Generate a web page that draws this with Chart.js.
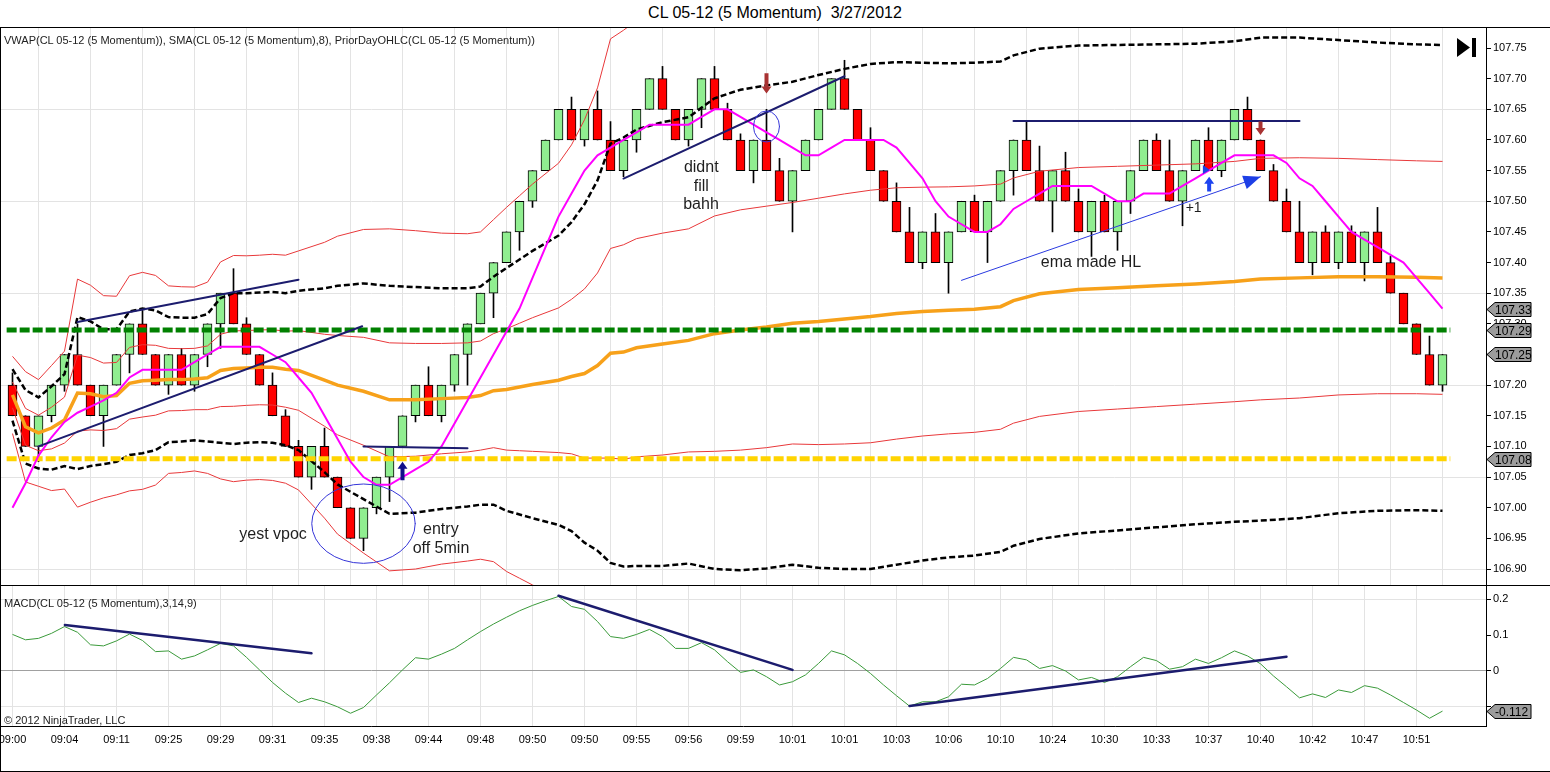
<!DOCTYPE html>
<html>
<head>
<meta charset="utf-8">
<title>CL 05-12 (5 Momentum) 3/27/2012</title>
<script src="https://cdn.jsdelivr.net/npm/chart.js@4.4.1/dist/chart.umd.min.js"></script>
<style>
  html, body { margin: 0; padding: 0; background: #fff; }
  #wrap { position: relative; width: 1550px; height: 772px; overflow: hidden; font-family: "Liberation Sans", Arial, sans-serif; color: #000; }
  canvas { position: absolute; left: 0; }
  #priceChart { top: 27px; }
  #macdChart { top: 586px; }
  .rule { position: absolute; background: #000; }
  .label { position: absolute; white-space: pre; font-size: 11px; line-height: 12px; color: #222; }
  #title { position: absolute; top: 4px; left: 0; width: 1550px; text-align: center; font-size: 16px; line-height: 18px; white-space: pre; }
</style>
</head>
<body>
<div id="wrap">
  <div id="title">CL 05-12 (5 Momentum)  3/27/2012</div>
  <canvas id="priceChart" width="1550" height="559"></canvas>
  <canvas id="macdChart" width="1550" height="186"></canvas>
  <div class="rule" style="left:0;top:27px;width:1550px;height:1px"></div>
  <div class="rule" style="left:0;top:585px;width:1550px;height:1px"></div>
  <div class="rule" style="left:0;top:27px;width:1px;height:745px"></div>
  <div class="rule" style="left:0;top:771px;width:1550px;height:1px"></div>
  <div class="label" style="left:4px;top:34px">VWAP(CL 05-12 (5 Momentum)), SMA(CL 05-12 (5 Momentum),8), PriorDayOHLC(CL 05-12 (5 Momentum))</div>
  <div class="label" style="left:4px;top:597px">MACD(CL 05-12 (5 Momentum),3,14,9)</div>
  <div class="label" style="left:4px;top:714px">© 2012 NinjaTrader, LLC</div>
</div>
<script>
// time labels, one every 4 momentum bars
const timeLabels = ['09:00', '09:04', '09:11', '09:25', '09:29', '09:31', '09:35', '09:38', '09:44', '09:48',
    '09:50', '09:50', '09:55', '09:56', '09:59', '10:01', '10:01', '10:03', '10:06', '10:10',
    '10:24', '10:30', '10:33', '10:37', '10:40', '10:42', '10:47', '10:51'];

// 5 tick momentum bars
const opens = [
    107.20, 107.15, 107.10, 107.15, 107.20, 107.25, 107.20, 107.15, 107.20, 107.25,
    107.30, 107.25, 107.20, 107.25, 107.20, 107.25, 107.30, 107.35, 107.30, 107.25,
    107.20, 107.15, 107.10, 107.05, 107.10, 107.05, 107.00, 106.95, 107.00, 107.05,
    107.10, 107.15, 107.20, 107.15, 107.20, 107.25, 107.30, 107.35, 107.40, 107.45,
    107.50, 107.55, 107.60, 107.65, 107.60, 107.65, 107.60, 107.55, 107.60, 107.65,
    107.70, 107.65, 107.60, 107.65, 107.70, 107.65, 107.60, 107.55, 107.60, 107.55,
    107.50, 107.55, 107.60, 107.65, 107.70, 107.65, 107.60, 107.55, 107.50, 107.45,
    107.40, 107.45, 107.40, 107.45, 107.50, 107.45, 107.50, 107.55, 107.60, 107.55,
    107.50, 107.55, 107.50, 107.45, 107.50, 107.45, 107.50, 107.55, 107.60, 107.55,
    107.50, 107.55, 107.60, 107.55, 107.60, 107.65, 107.60, 107.55, 107.50, 107.45,
    107.40, 107.45, 107.40, 107.45, 107.40, 107.45, 107.40, 107.35, 107.30, 107.25,
    107.20];
const closes = [
    107.15, 107.10, 107.15, 107.20, 107.25, 107.20, 107.15, 107.20, 107.25, 107.30,
    107.25, 107.20, 107.25, 107.20, 107.25, 107.30, 107.35, 107.30, 107.25, 107.20,
    107.15, 107.10, 107.05, 107.10, 107.05, 107.00, 106.95, 107.00, 107.05, 107.10,
    107.15, 107.20, 107.15, 107.20, 107.25, 107.30, 107.35, 107.40, 107.45, 107.50,
    107.55, 107.60, 107.65, 107.60, 107.65, 107.60, 107.55, 107.60, 107.65, 107.70,
    107.65, 107.60, 107.65, 107.70, 107.65, 107.60, 107.55, 107.60, 107.55, 107.50,
    107.55, 107.60, 107.65, 107.70, 107.65, 107.60, 107.55, 107.50, 107.45, 107.40,
    107.45, 107.40, 107.45, 107.50, 107.45, 107.50, 107.55, 107.60, 107.55, 107.50,
    107.55, 107.50, 107.45, 107.50, 107.45, 107.50, 107.55, 107.60, 107.55, 107.50,
    107.55, 107.60, 107.55, 107.60, 107.65, 107.60, 107.55, 107.50, 107.45, 107.40,
    107.45, 107.40, 107.45, 107.40, 107.45, 107.40, 107.35, 107.30, 107.25, 107.20,
    107.25];
const highs = [
    107.22, 107.15, 107.15, 107.20, 107.25, 107.30, 107.20, 107.20, 107.25, 107.30,
    107.325, 107.25, 107.25, 107.26, 107.25, 107.30, 107.35, 107.39, 107.31, 107.25,
    107.22, 107.16, 107.11, 107.10, 107.13, 107.05, 107.00, 107.00, 107.05, 107.10,
    107.15, 107.20, 107.23, 107.20, 107.25, 107.30, 107.35, 107.40, 107.45, 107.50,
    107.55, 107.60, 107.65, 107.67, 107.65, 107.68, 107.63, 107.60, 107.65, 107.70,
    107.72, 107.65, 107.65, 107.70, 107.72, 107.66, 107.61, 107.60, 107.65, 107.57,
    107.55, 107.60, 107.65, 107.70, 107.73, 107.65, 107.62, 107.55, 107.53, 107.49,
    107.45, 107.48, 107.45, 107.50, 107.51, 107.50, 107.55, 107.60, 107.63, 107.59,
    107.55, 107.58, 107.52, 107.50, 107.51, 107.50, 107.55, 107.60, 107.61, 107.60,
    107.55, 107.60, 107.62, 107.60, 107.65, 107.67, 107.60, 107.56, 107.52, 107.50,
    107.45, 107.46, 107.45, 107.46, 107.45, 107.49, 107.41, 107.35, 107.30, 107.28,
    107.25];
const lows = [
    107.15, 107.10, 107.075, 107.14, 107.19, 107.20, 107.15, 107.10, 107.20, 107.22,
    107.25, 107.20, 107.185, 107.20, 107.19, 107.23, 107.26, 107.30, 107.25, 107.20,
    107.15, 107.10, 107.05, 107.03, 107.05, 107.00, 106.95, 106.93, 106.99, 107.01,
    107.10, 107.14, 107.15, 107.14, 107.19, 107.20, 107.30, 107.31, 107.40, 107.42,
    107.49, 107.55, 107.60, 107.60, 107.59, 107.60, 107.55, 107.54, 107.58, 107.65,
    107.65, 107.60, 107.59, 107.62, 107.65, 107.60, 107.55, 107.53, 107.55, 107.50,
    107.45, 107.55, 107.60, 107.65, 107.65, 107.60, 107.55, 107.50, 107.45, 107.40,
    107.39, 107.40, 107.35, 107.45, 107.45, 107.40, 107.50, 107.51, 107.55, 107.50,
    107.45, 107.50, 107.45, 107.41, 107.45, 107.42, 107.48, 107.55, 107.55, 107.50,
    107.46, 107.55, 107.55, 107.54, 107.60, 107.60, 107.55, 107.50, 107.45, 107.40,
    107.38, 107.40, 107.39, 107.40, 107.37, 107.40, 107.35, 107.30, 107.25, 107.20,
    107.19];

// SMA(8), magenta
const sma8 = [
    107.00, 107.04, 107.085, 107.115, 107.14, 107.155, 107.165, 107.175, 107.1875, 107.2125,
    107.225, 107.225, 107.225, 107.225, 107.2375, 107.25, 107.2625, 107.2625, 107.2625, 107.2625,
    107.25, 107.2375, 107.2125, 107.1875, 107.15, 107.1125, 107.075, 107.05, 107.0375, 107.0375,
    107.05, 107.0625, 107.075, 107.10, 107.1375, 107.175, 107.2125, 107.25, 107.2875, 107.325,
    107.375, 107.425, 107.475, 107.5125, 107.55, 107.575, 107.5875, 107.60, 107.6125, 107.625,
    107.625, 107.625, 107.625, 107.6375, 107.65, 107.65, 107.6375, 107.625, 107.6125, 107.60,
    107.5875, 107.575, 107.575, 107.5875, 107.60, 107.60, 107.60, 107.60, 107.5875, 107.5625,
    107.5375, 107.50, 107.475, 107.4625, 107.45, 107.45, 107.4625, 107.4875, 107.50, 107.5125,
    107.525, 107.525, 107.525, 107.525, 107.5125, 107.50, 107.50, 107.5125, 107.5125, 107.5125,
    107.525, 107.5375, 107.55, 107.5625, 107.575, 107.575, 107.575, 107.575, 107.5625, 107.5375,
    107.525, 107.50, 107.475, 107.45, 107.4375, 107.425, 107.4125, 107.40, 107.375, 107.35,
    107.325];

// VWAP and its standard deviation, read at these bars
const vwapBars = [0, 1, 2, 3, 4, 5, 6, 7, 8, 9, 10, 11, 12, 13, 14, 15, 16, 17, 18, 19, 20, 21, 22,
    24, 25, 27, 29, 31, 33, 35, 36, 37, 38, 39, 40, 42, 43, 44, 45, 46, 47, 48,
    50, 52, 54, 56, 58, 60, 62, 64, 66, 68, 70, 72, 74, 76,
    77, 79, 82, 85, 88, 91, 94, 96, 99, 102, 105, 108, 110];
const vwap = [
    107.184, 107.132, 107.122, 107.130, 107.143, 107.187, 107.186, 107.181, 107.183, 107.203,
    107.207, 107.208, 107.209, 107.209, 107.210, 107.212, 107.224, 107.227, 107.228, 107.229,
    107.229, 107.226, 107.224,
    107.208, 107.200, 107.190, 107.176, 107.176, 107.178, 107.180, 107.183, 107.191, 107.193, 107.197, 107.201,
    107.208, 107.214, 107.219, 107.232, 107.252, 107.254, 107.261,
    107.267, 107.273, 107.284, 107.290, 107.295, 107.301, 107.304, 107.308, 107.312, 107.317, 107.320, 107.322, 107.324, 107.328,
    107.338, 107.349, 107.356, 107.359, 107.362, 107.365, 107.369, 107.373, 107.375, 107.377, 107.377, 107.376, 107.375];
const vwapSd = [
    0.021, 0.030, 0.029, 0.034, 0.0375, 0.062, 0.059, 0.055, 0.054, 0.0585,
    0.059, 0.057, 0.051, 0.0505, 0.050, 0.052, 0.059, 0.0615, 0.061, 0.061,
    0.0615, 0.062, 0.065,
    0.075, 0.081, 0.088, 0.093, 0.092, 0.090, 0.089, 0.089, 0.093, 0.099, 0.104, 0.109,
    0.118, 0.126, 0.138, 0.151, 0.171, 0.175, 0.178,
    0.181, 0.182, 0.192, 0.196, 0.197, 0.197, 0.201, 0.204, 0.206, 0.205, 0.203, 0.2015, 0.201, 0.200,
    0.200, 0.200, 0.199, 0.198, 0.197, 0.196, 0.196, 0.197, 0.196, 0.193, 0.191, 0.190, 0.190];

// prior day levels (green, yellow)
const priorDayLevels = [107.29, 107.08];

// MACD(3,14,9)
const macd = [
    0.102, 0.087, 0.091, 0.105, 0.124, 0.108, 0.073, 0.070, 0.084, 0.103,
    0.085, 0.054, 0.056, 0.033, 0.042, 0.059, 0.077, 0.070, 0.038, 0.003,
    -0.032, -0.062, -0.088, -0.076, -0.086, -0.100, -0.118, -0.102, -0.067, -0.033,
    0.003, 0.037, 0.033, 0.047, 0.063, 0.087, 0.110, 0.131, 0.150, 0.168,
    0.183, 0.196, 0.208, 0.180, 0.172, 0.138, 0.096, 0.091, 0.102, 0.116,
    0.096, 0.063, 0.063, 0.079, 0.059, 0.026, -0.004, 0.003, -0.016, -0.039,
    -0.030, -0.011, 0.021, 0.056, 0.045, 0.021, -0.007, -0.039, -0.069, -0.098,
    -0.086, -0.086, -0.072, -0.037, -0.039, -0.021, 0.007, 0.038, 0.031, 0.007,
    0.015, 0.000, -0.025, -0.018, -0.032, -0.016, 0.012, 0.038, 0.029, 0.005,
    0.012, 0.033, 0.021, 0.037, 0.056, 0.042, 0.020, -0.014, -0.044, -0.075,
    -0.064, -0.074, -0.053, -0.060, -0.041, -0.048, -0.067, -0.088, -0.109, -0.132,
    -0.112];

const priceTicks = [106.90, 106.95, 107.00, 107.05, 107.10, 107.15, 107.20, 107.25, 107.30,
    107.35, 107.40, 107.45, 107.50, 107.55, 107.60, 107.65, 107.70, 107.75];
const priceGrid = [106.90, 107.05, 107.20, 107.35, 107.50, 107.65];
const macdTicks = [-0.1, 0, 0.1, 0.2];

// hand drawn objects on the chart (bar index, price)
const trendLines = [
    [2.0, 107.100, 26.9, 107.296],
    [5.0, 107.303, 22.0, 107.372],
    [47.0, 107.537, 64.0, 107.704],
    [27.0, 107.100, 35.0, 107.097],
    [77.0, 107.631, 99.0, 107.631]
];
const emaArrow = [73.0, 107.371, 96.0, 107.540];
const circles = [[27.0, 106.974, 3.98, 0.0647], [58.0, 107.622, 1.0, 0.0253]];
const blockArrows = [
    [30.0, 107.075, 107.045, '#10108a'],
    [58.0, 107.676, 107.709, '#a83232'],
    [92.05, 107.540, 107.516, '#1d44f0'],
    [96.0, 107.608, 107.630, '#a83232']
];
const notes = [
    ['yest vpoc', 20.04, 106.9556, 16],
    ['entry', 32.95, 106.9637, 16],
    ['off 5min', 32.96, 106.9335, 16],
    ['didnt', 52.98, 107.5542, 16],
    ['fill', 52.98, 107.5232, 16],
    ['bahh', 52.96, 107.4939, 16],
    ['ema made HL', 82.96, 107.3993, 16],
    ['+1', 90.86, 107.489, 14]
];
const macdLines = [[4.03, 0.1285, 23.0, 0.0494], [42.0, 0.210, 60.0, 0.003], [69.0, -0.098, 98.0, 0.040]];

Chart.defaults.font.family = '"Liberation Sans", Arial, sans-serif';
Chart.defaults.font.size = 11;
Chart.defaults.color = '#000';

const xMin = -12.5 / 13;
const xMax = xMin + 1486 / 13;
const near = (a, b) => Math.abs(a - b) < 1e-6;

function timeAxis(showLabels) {
    return {
        type: 'linear', min: xMin, max: xMax, offset: false,
        afterBuildTicks: s => { s.ticks = timeLabels.map((t, k) => ({ value: k * 4 })); },
        afterFit: s => { s.paddingLeft = 0; s.paddingRight = 0; s.height = showLabels ? 46 : 0; },
        grid: { color: '#e3e3e3', drawTicks: false },
        border: { display: showLabels, color: '#000' },
        ticks: { display: showLabels, autoSkip: false, maxRotation: 0, padding: 7, callback: (v, k) => timeLabels[k] }
    };
}

function drawTag(ctx, left, y, text) {
    ctx.beginPath();
    ctx.moveTo(left + 1, y);
    ctx.lineTo(left + 9, y - 7);
    ctx.lineTo(left + 45, y - 7);
    ctx.lineTo(left + 45, y + 7);
    ctx.lineTo(left + 9, y + 7);
    ctx.closePath();
    ctx.fillStyle = '#9c9c9c';
    ctx.fill();
    ctx.strokeStyle = '#000';
    ctx.lineWidth = 1;
    ctx.stroke();
    ctx.fillStyle = '#000';
    ctx.font = '12px "Liberation Sans", Arial, sans-serif';
    ctx.textAlign = 'left';
    ctx.textBaseline = 'middle';
    ctx.fillText(text, left + 9, y + 1);
}

function clipArea(ctx, a) {
    ctx.beginPath();
    ctx.rect(a.left, a.top, a.right - a.left, a.bottom - a.top);
    ctx.clip();
}

const priceDrawings = {
    id: 'priceDrawings',
    afterDatasetsDraw(chart) {
        const { ctx, chartArea, scales: { x, y } } = chart;
        ctx.save();
        clipArea(ctx, chartArea);
        ctx.lineCap = 'round';

        ctx.strokeStyle = '#1c1c6e';
        ctx.lineWidth = 2;
        trendLines.forEach(l => {
            ctx.beginPath();
            ctx.moveTo(x.getPixelForValue(l[0]), y.getPixelForValue(l[1]));
            ctx.lineTo(x.getPixelForValue(l[2]), y.getPixelForValue(l[3]));
            ctx.stroke();
        });

        // thin blue arrow
        const ax1 = x.getPixelForValue(emaArrow[0]), ay1 = y.getPixelForValue(emaArrow[1]);
        const ax2 = x.getPixelForValue(emaArrow[2]), ay2 = y.getPixelForValue(emaArrow[3]);
        const ang = Math.atan2(ay2 - ay1, ax2 - ax1);
        ctx.strokeStyle = '#2a3ae0';
        ctx.lineWidth = 1;
        ctx.beginPath();
        ctx.moveTo(ax1, ay1);
        ctx.lineTo(ax2, ay2);
        ctx.stroke();
        ctx.fillStyle = '#1d3fe6';
        ctx.beginPath();
        ctx.moveTo(ax2, ay2);
        ctx.lineTo(ax2 - 17 * Math.cos(ang) + 7 * Math.sin(ang), ay2 - 17 * Math.sin(ang) - 7 * Math.cos(ang));
        ctx.lineTo(ax2 - 17 * Math.cos(ang) - 7 * Math.sin(ang), ay2 - 17 * Math.sin(ang) + 7 * Math.cos(ang));
        ctx.closePath();
        ctx.fill();

        // small marker near +1
        const mx = x.getPixelForValue(91.8), my = y.getPixelForValue(107.551);
        ctx.beginPath();
        ctx.moveTo(mx - 3, my - 5);
        ctx.lineTo(mx + 4, my);
        ctx.lineTo(mx - 3, my + 4);
        ctx.closePath();
        ctx.fill();

        // ellipses
        ctx.strokeStyle = '#3434d8';
        ctx.lineWidth = 1;
        circles.forEach(c => {
            const cx = x.getPixelForValue(c[0]), cy = y.getPixelForValue(c[1]);
            const rx = Math.abs(x.getPixelForValue(c[0] + c[2]) - cx);
            const ry = Math.abs(y.getPixelForValue(c[1] + c[3]) - cy);
            ctx.beginPath();
            ctx.ellipse(cx, cy, rx, ry, 0, 0, Math.PI * 2);
            ctx.stroke();
        });

        // block arrows
        blockArrows.forEach(b => {
            const bx = x.getPixelForValue(b[0]);
            const tip = y.getPixelForValue(b[1]), tail = y.getPixelForValue(b[2]);
            const dir = tail > tip ? 1 : -1;
            ctx.fillStyle = b[3];
            ctx.beginPath();
            ctx.moveTo(bx, tip);
            ctx.lineTo(bx + 5, tip + 7 * dir);
            ctx.lineTo(bx + 2, tip + 7 * dir);
            ctx.lineTo(bx + 2, tail);
            ctx.lineTo(bx - 2, tail);
            ctx.lineTo(bx - 2, tip + 7 * dir);
            ctx.lineTo(bx - 5, tip + 7 * dir);
            ctx.closePath();
            ctx.fill();
        });

        // text notes
        ctx.fillStyle = '#1e1e1e';
        ctx.textAlign = 'center';
        ctx.textBaseline = 'middle';
        notes.forEach(n => {
            ctx.font = n[3] + 'px "Liberation Sans", Arial, sans-serif';
            ctx.fillText(n[0], x.getPixelForValue(n[1]), y.getPixelForValue(n[2]));
        });
        ctx.restore();
    },
    afterDraw(chart) {
        const { ctx, chartArea, scales: { y } } = chart;
        ctx.save();
        const tags = [sma8[sma8.length - 1], priorDayLevels[0], closes[closes.length - 1], priorDayLevels[1]];
        tags.forEach(v => drawTag(ctx, chartArea.right, Math.round(y.getPixelForValue(v)) + 0.5, (v + 1e-9).toFixed(2)));

        // "go to last bar" button
        ctx.fillStyle = '#000';
        ctx.beginPath();
        ctx.moveTo(1457, 11);
        ctx.lineTo(1457, 30);
        ctx.lineTo(1470, 20.5);
        ctx.closePath();
        ctx.fill();
        ctx.fillRect(1472, 11, 4, 19);
        ctx.restore();
    }
};

const candleWicks = closes.map((c, i) => ({ x: i, y: [lows[i], highs[i]] }));
const candleBodies = closes.map((c, i) => ({ x: i, y: [opens[i], c] }));
const band = k => vwapBars.map((b, j) => ({ x: b, y: vwap[j] + k * vwapSd[j] }));
const lineSet = (data, color, width, order, dash) => ({
    type: 'line', data: data, borderColor: color, borderWidth: width, borderDash: dash || [],
    pointRadius: 0, fill: false, tension: 0, order: order
});

const priceCtx = document.getElementById('priceChart').getContext('2d');
const priceChart = new Chart(priceCtx, {
    type: 'line',
    data: {
        datasets: [
            { type: 'bar', data: candleWicks, backgroundColor: '#000', barThickness: 1, grouped: false, order: 20 },
            {
                type: 'bar', data: candleBodies, grouped: false, order: 19, barThickness: 9,
                backgroundColor: closes.map((c, i) => c > opens[i] ? '#90ee90' : '#ff0000'),
                borderColor: '#000', borderWidth: 1, borderSkipped: false
            },
            lineSet(band(3), '#e8383a', 1, 12),
            lineSet(band(1), '#e8383a', 1, 12),
            lineSet(band(-1), '#e8383a', 1, 12),
            lineSet(band(-3), '#e8383a', 1, 12),
            lineSet(band(2), '#000', 2.5, 11, [6, 3]),
            lineSet(band(-2), '#000', 2.5, 11, [6, 3]),
            lineSet(vwapBars.map((b, j) => ({ x: b, y: vwap[j] })), '#f7a11a', 3.5, 10),
            lineSet([{ x: -0.45, y: priorDayLevels[0] }, { x: closes.length - 0.4, y: priorDayLevels[0] }], '#008000', 5, 8, [10, 3]),
            lineSet([{ x: -0.45, y: priorDayLevels[1] }, { x: closes.length - 0.4, y: priorDayLevels[1] }], '#ffd400', 5, 8, [10, 3]),
            lineSet(sma8.map((v, i) => ({ x: i, y: v })), '#ff00ff', 2, 6)
        ]
    },
    options: {
        responsive: false, animation: false, devicePixelRatio: 1,
        layout: { padding: 0 },
        plugins: { legend: { display: false }, tooltip: { enabled: false } },
        scales: {
            x: timeAxis(false),
            y: {
                position: 'right', min: 106.8723, max: 107.7843,
                afterBuildTicks: s => { s.ticks = priceTicks.map(v => ({ value: v })); },
                afterFit: s => { s.width = 64; s.paddingTop = 0; s.paddingBottom = 0; },
                grid: {
                    color: c => (c.tick && priceGrid.some(g => near(g, c.tick.value))) ? '#e3e3e3' : 'rgba(0,0,0,0)',
                    tickColor: '#000', tickLength: 5
                },
                border: { color: '#000' },
                ticks: { padding: 2, callback: v => v.toFixed(2) }
            }
        }
    },
    plugins: [priceDrawings]
});

const macdDrawings = {
    id: 'macdDrawings',
    afterDatasetsDraw(chart) {
        const { ctx, chartArea, scales: { x, y } } = chart;
        ctx.save();
        clipArea(ctx, chartArea);
        ctx.strokeStyle = '#1c1c6e';
        ctx.lineWidth = 2.5;
        ctx.lineCap = 'round';
        macdLines.forEach(l => {
            ctx.beginPath();
            ctx.moveTo(x.getPixelForValue(l[0]), y.getPixelForValue(l[1]));
            ctx.lineTo(x.getPixelForValue(l[2]), y.getPixelForValue(l[3]));
            ctx.stroke();
        });
        ctx.restore();
    },
    afterDraw(chart) {
        const { ctx, chartArea, scales: { y } } = chart;
        const last = macd[macd.length - 1];
        ctx.save();
        drawTag(ctx, chartArea.right, Math.round(y.getPixelForValue(last)) + 0.5, last.toFixed(3));
        ctx.restore();
    }
};

const macdCtx = document.getElementById('macdChart').getContext('2d');
const macdChart = new Chart(macdCtx, {
    type: 'line',
    data: {
        datasets: [lineSet(macd.map((v, i) => ({ x: i, y: v })), '#3a9a3a', 1, 1)]
    },
    options: {
        responsive: false, animation: false, devicePixelRatio: 1,
        layout: { padding: 0 },
        plugins: { legend: { display: false }, tooltip: { enabled: false } },
        scales: {
            x: timeAxis(true),
            y: {
                position: 'right', min: -0.1536, max: 0.2372,
                afterBuildTicks: s => { s.ticks = macdTicks.map(v => ({ value: v })); },
                afterFit: s => { s.width = 64; s.paddingTop = 0; s.paddingBottom = 0; },
                grid: {
                    color: c => {
                        const v = c.tick ? c.tick.value : 1;
                        if (near(v, 0)) return '#a0a0a0';
                        if (near(v, 0.2) || near(v, -0.1)) return '#e3e3e3';
                        return 'rgba(0,0,0,0)';
                    },
                    tickColor: '#000', tickLength: 5
                },
                border: { color: '#000' },
                ticks: { padding: 2, callback: v => near(v, -0.1) ? '' : String(Math.round(v * 10) / 10) }
            }
        }
    },
    plugins: [macdDrawings]
});
</script>
</body>
</html>
